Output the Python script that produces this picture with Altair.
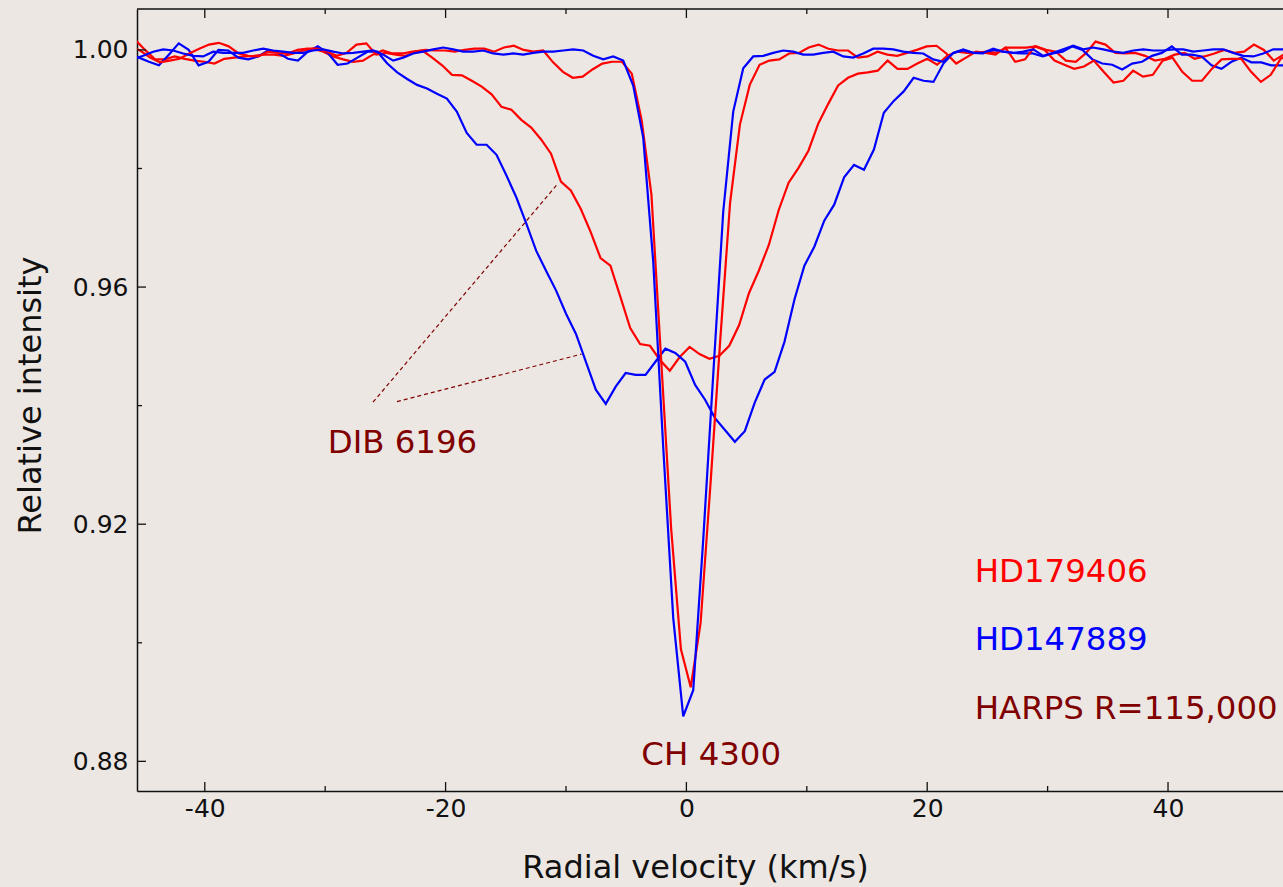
import altair as alt
import numpy as np
import pandas as pd

# ---------------- data ----------------
# Each spectrum is sampled on a regular velocity grid: start (km/s), step (km/s)
BLUE_CH_V0, BLUE_CH_DV = -45.947, 0.8306
BLUE_CH = [
    0.9984, 0.9990, 0.9997, 1.0001, 0.9999, 0.9994, 0.9990, 0.9989, 0.9997, 0.9995,
    0.9995, 0.9995, 0.9999, 1.0002, 0.9999, 0.9997, 0.9995, 0.9995, 0.9999, 1.0001,
    0.9997, 0.9994, 0.9995, 0.9997, 0.9999, 0.9992, 0.9982, 0.9987, 0.9994, 0.9997,
    1.0001, 1.0004, 1.0001, 0.9997, 0.9997, 0.9999, 0.9994, 0.9992, 0.9994, 0.9992,
    0.9995, 0.9997, 0.9997, 0.9999, 1.0001, 0.9999, 0.9990, 0.9984, 0.9989, 0.9982,
    0.9940, 0.9852, 0.9643, 0.9330, 0.9042, 0.8876, 0.8920, 0.9174, 0.9452, 0.9727,
    0.9896, 0.9969, 0.9989, 0.9990, 0.9995, 0.9999, 0.9997, 0.9992, 0.9992, 0.9995,
    0.9997, 0.9989, 0.9987, 0.9994, 1.0002, 1.0002, 1.0001, 0.9997, 0.9995, 0.9994,
    0.9984, 0.9980, 0.9995, 1.0001, 0.9995, 0.9995, 1.0002, 0.9997, 0.9995, 0.9997,
    1.0001, 0.9990, 0.9995, 1.0001, 1.0007, 1.0001, 1.0004, 1.0001, 0.9997, 0.9995,
    0.9999, 1.0001, 0.9999, 0.9999, 1.0001, 1.0001, 0.9997, 0.9999, 1.0001, 1.0001,
    0.9995, 0.9990, 0.9989, 0.9994, 1.0001, 1.0001, 1.0001,
]

BLUE_DIB_V0, BLUE_DIB_DV = -46.287, 0.8248
BLUE_DIB = [
    0.9992, 0.9987, 0.9980, 0.9974, 0.9992, 1.0011, 1.0000, 0.9974, 0.9980, 1.0000,
    0.9999, 0.9987, 0.9984, 0.9989, 0.9999, 0.9995, 0.9985, 0.9982, 0.9997, 1.0006,
    0.9995, 0.9975, 0.9977, 0.9987, 0.9997, 0.9997, 0.9977, 0.9962, 0.9951, 0.9941,
    0.9935, 0.9926, 0.9918, 0.9896, 0.9860, 0.9840, 0.9840, 0.9823, 0.9788, 0.9751,
    0.9707, 0.9661, 0.9627, 0.9594, 0.9555, 0.9521, 0.9474, 0.9427, 0.9403, 0.9432,
    0.9455, 0.9452, 0.9452, 0.9474, 0.9496, 0.9489, 0.9474, 0.9435, 0.9410, 0.9379,
    0.9359, 0.9339, 0.9357, 0.9405, 0.9444, 0.9457, 0.9508, 0.9579, 0.9636, 0.9668,
    0.9712, 0.9739, 0.9785, 0.9806, 0.9798, 0.9832, 0.9894, 0.9914, 0.9930, 0.9953,
    0.9948, 0.9946, 0.9977, 0.9995, 0.9999, 0.9995, 0.9994, 1.0000, 0.9997, 0.9995,
    0.9994, 0.9994, 0.9989, 0.9994, 0.9997, 1.0006, 1.0000, 0.9984, 0.9977, 0.9975,
    0.9967, 0.9977, 0.9980, 0.9990, 0.9995, 1.0006, 0.9992, 0.9992, 0.9989, 0.9974,
    0.9968, 0.9980, 0.9987, 0.9979, 0.9979, 0.9974, 0.9974, 0.9974,
]

RED_CH_V0, RED_CH_DV = -46.179, 0.8165
RED_CH = [
    1.0006, 0.9999, 0.9987, 0.9979, 0.9982, 0.9985, 0.9994, 1.0002, 1.0009, 1.0012,
    1.0006, 0.9994, 0.9990, 0.9989, 0.9997, 0.9995, 0.9994, 1.0000, 1.0002, 1.0002,
    0.9997, 0.9990, 0.9995, 1.0009, 1.0011, 0.9992, 0.9995, 0.9992, 0.9990, 0.9997,
    1.0000, 0.9999, 0.9999, 0.9997, 1.0000, 1.0002, 1.0002, 0.9997, 1.0004, 1.0007,
    1.0000, 0.9997, 0.9999, 0.9979, 0.9963, 0.9953, 0.9955, 0.9967, 0.9977, 0.9980,
    0.9980, 0.9960, 0.9882, 0.9756, 0.9474, 0.9194, 0.8989, 0.8925, 0.9033, 0.9266,
    0.9511, 0.9742, 0.9874, 0.9941, 0.9975, 0.9982, 0.9984, 0.9994, 0.9995, 1.0004,
    1.0009, 1.0002, 0.9999, 0.9999, 0.9987, 0.9989, 0.9997, 0.9992, 0.9990, 0.9995,
    1.0000, 1.0006, 1.0007, 0.9994, 0.9977, 0.9987, 0.9997, 0.9995, 0.9992, 1.0004,
    0.9980, 0.9984, 1.0006, 1.0000, 0.9982, 0.9975, 0.9968, 0.9972, 0.9982, 0.9963,
    0.9945, 0.9948, 0.9965, 0.9955, 0.9958, 0.9982, 0.9987, 0.9963, 0.9948, 0.9948,
    0.9968, 0.9984, 0.9985, 0.9985, 0.9963, 0.9946, 0.9958, 0.9985, 0.9992,
]

RED_DIB_V0, RED_DIB_DV = -45.781, 0.8223
RED_DIB = [
    1.0017, 1.0000, 0.9984, 0.9984, 0.9989, 0.9985, 0.9982, 0.9980, 0.9977, 0.9985,
    0.9987, 0.9989, 0.9990, 0.9992, 0.9992, 0.9990, 0.9994, 0.9999, 1.0002, 0.9997,
    0.9989, 0.9984, 0.9980, 0.9982, 0.9992, 0.9999, 0.9994, 0.9994, 0.9997, 0.9999,
    0.9987, 0.9974, 0.9958, 0.9957, 0.9948, 0.9938, 0.9925, 0.9904, 0.9899, 0.9882,
    0.9869, 0.9849, 0.9825, 0.9778, 0.9763, 0.9732, 0.9693, 0.9649, 0.9636, 0.9584,
    0.9531, 0.9504, 0.9501, 0.9477, 0.9459, 0.9482, 0.9499, 0.9487, 0.9479, 0.9484,
    0.9501, 0.9536, 0.9590, 0.9628, 0.9671, 0.9730, 0.9776, 0.9801, 0.9830, 0.9876,
    0.9909, 0.9940, 0.9953, 0.9960, 0.9962, 0.9965, 0.9982, 0.9968, 0.9968, 0.9977,
    0.9985, 0.9975, 0.9990, 0.9997, 0.9995, 0.9995, 0.9997, 0.9995, 1.0004, 1.0004,
    1.0004, 1.0006, 1.0000, 0.9997, 0.9982, 0.9980, 0.9994, 1.0014, 1.0009, 0.9995,
    0.9994, 0.9995, 0.9990, 0.9982, 0.9985, 0.9992, 0.9995, 0.9985, 0.9989, 0.9994,
    1.0000, 0.9995, 0.9997, 1.0009, 1.0000, 0.9982, 0.9992, 0.9992,
]

STARS = ["HD179406", "HD147889"]
X_MAJOR = [-40, -20, 0, 20, 40]
X_MINOR = [-30, -10, 10, 30]
Y_MAJOR = [0.88, 0.92, 0.96, 1.00]
Y_MINOR = [0.90, 0.94, 0.98]

LABEL_TEXT = ["DIB 6196", "CH 4300", "HD179406", "HD147889", "HARPS R=115,000"]
LABEL_V = [-29.79, -3.74, 23.94, 23.94, 23.94]
LABEL_I = [0.9320, 0.8794, 0.9103, 0.8988, 0.8871]
LABEL_COLOR = ["#800000", "#800000", "#FF0000", "#0000FF", "#800000"]

LEADER_V = [-26.03, -24.04]
LEADER_I = [0.94058, 0.94068]
LEADER_V2 = [-10.80, -8.72]
LEADER_I2 = [0.97714, 0.94868]

# ---------------- styling ----------------
BG = "#ECE7E3"
INK = "#111111"
FONT = "DejaVu Sans"
W, H = 1146, 782
X_DOMAIN = [-45.63, 49.55]
Y_DOMAIN = [0.8750, 1.0069]

frames = []
for name, star, v0, dv, vals in [
    ("red_dib", "HD179406", RED_DIB_V0, RED_DIB_DV, RED_DIB),
    ("blue_dib", "HD147889", BLUE_DIB_V0, BLUE_DIB_DV, BLUE_DIB),
    ("red_ch", "HD179406", RED_CH_V0, RED_CH_DV, RED_CH),
    ("blue_ch", "HD147889", BLUE_CH_V0, BLUE_CH_DV, BLUE_CH),
]:
    v = v0 + dv * np.arange(len(vals))
    frames.append(pd.DataFrame({"v": v, "I": vals, "curve": name, "star": star}))
spec = pd.concat(frames, ignore_index=True)

xs = alt.Scale(domain=X_DOMAIN, nice=False, zero=False)
ys = alt.Scale(domain=Y_DOMAIN, nice=False, zero=False)

x_axis = alt.Axis(
    values=X_MAJOR, labelExpr="'' + datum.value", ticks=False, grid=False,
    domain=True, domainColor=INK, domainWidth=1.5,
    labelFont=FONT, labelFontSize=25, labelColor=INK, labelPadding=5,
    title="Radial velocity (km/s)", titleFont=FONT, titleFontSize=32,
    titleFontWeight="normal", titleColor=INK, titleX=558, titleY=86,
    titleAlign="center", titleBaseline="alphabetic",
)
y_axis = alt.Axis(
    values=Y_MAJOR, format=".2f", ticks=False, grid=False,
    domain=True, domainColor=INK, domainWidth=1.5,
    labelFont=FONT, labelFontSize=25, labelColor=INK, labelPadding=9,
    title="Relative intensity", titleFont=FONT, titleFontSize=32,
    titleFontWeight="normal", titleColor=INK, titleX=-97, titleY=386,
    titleAngle=270, titleAlign="center", titleBaseline="alphabetic",
)

X = lambda f: alt.X(f, scale=xs, axis=x_axis)
Y = lambda f: alt.Y(f, scale=ys, axis=y_axis)

lines = alt.Chart(spec).mark_line(strokeWidth=2.2, clip=True).encode(
    x=X("v:Q"),
    y=Y("I:Q"),
    color=alt.Color("star:N", scale=alt.Scale(domain=STARS, range=["#FF0000", "#0000FF"]), legend=None),
    detail="curve:N",
)

def xticks(values, y0, y1):
    return alt.Chart(pd.DataFrame({"v": values})).mark_rule(color=INK, strokeWidth=1.3).encode(
        x=X("v:Q"), y=alt.value(y0), y2=alt.value(y1)
    )

def yticks(values, x0, x1):
    return alt.Chart(pd.DataFrame({"I": values})).mark_rule(color=INK, strokeWidth=1.3).encode(
        y=Y("I:Q"), x=alt.value(x0), x2=alt.value(x1)
    )

ticks = [
    xticks(X_MAJOR, H - 9, H), xticks(X_MINOR, H - 5, H),
    xticks(X_MAJOR, 0, 9), xticks(X_MINOR, 0, 5),
    yticks(Y_MAJOR, 0, 9), yticks(Y_MINOR, 0, 5),
]

top_frame = alt.Chart(pd.DataFrame({"k": [0]})).mark_rule(color=INK, strokeWidth=1.5).encode(
    x=alt.value(0), x2=alt.value(W), y=alt.value(0)
)

leaders = alt.Chart(pd.DataFrame({"v": LEADER_V, "I": LEADER_I, "v2": LEADER_V2, "I2": LEADER_I2})).mark_rule(
    color="#800000", strokeWidth=1.2, strokeDash=[4, 3]
).encode(
    x=X("v:Q"), y=Y("I:Q"),
    x2="v2:Q", y2="I2:Q",
)

labels = alt.Chart(pd.DataFrame({"v": LABEL_V, "I": LABEL_I, "t": LABEL_TEXT, "c": LABEL_COLOR})).mark_text(
    align="left", baseline="alphabetic", font=FONT, fontSize=32.4
).encode(
    x=X("v:Q"), y=Y("I:Q"),
    text="t:N", color=alt.Color("c:N", scale=None),
)

chart = alt.layer(lines, *ticks, top_frame, leaders, labels).properties(
    width=W, height=H,
    padding={"left": 137, "top": 9, "right": 0, "bottom": 96},
    autosize=alt.AutoSizeParams(type="none"),
    background=BG,
).configure_view(strokeWidth=0, fill=BG)

chart.save("out.html", embed_options={"renderer": "svg", "actions": False})
